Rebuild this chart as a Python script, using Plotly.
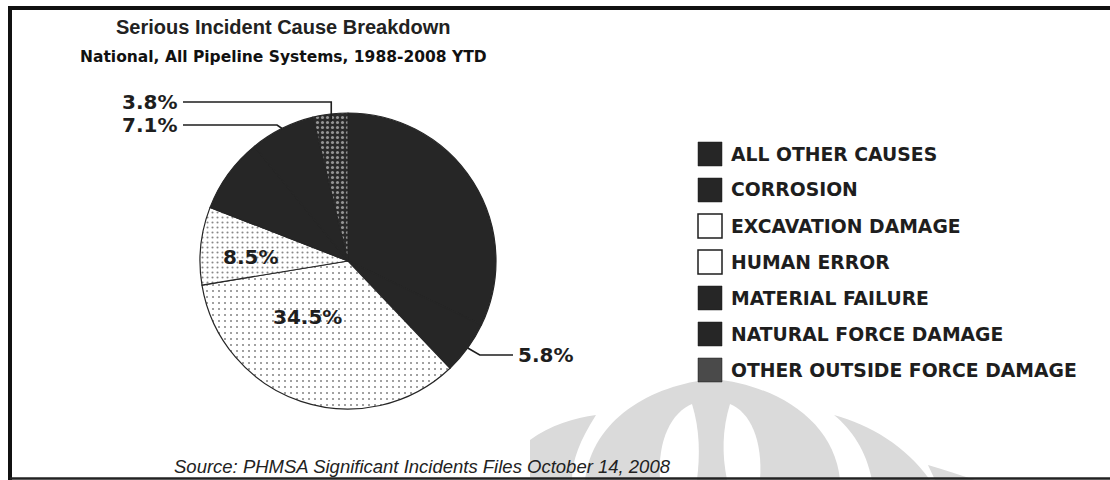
import math
import plotly.graph_objects as go

# ---------------- data ----------------
categories = [
    "ALL OTHER CAUSES",
    "CORROSION",
    "EXCAVATION DAMAGE",
    "HUMAN ERROR",
    "MATERIAL FAILURE",
    "NATURAL FORCE DAMAGE",
    "OTHER OUTSIDE FORCE DAMAGE",
]
values = [32.1, 5.8, 34.5, 8.5, 8.2, 7.1, 3.8]
shown_labels = [False, True, True, True, False, True, True]

title_text = "Serious Incident Cause Breakdown"
subtitle_text = "National, All Pipeline Systems, 1988-2008 YTD"
source_text = "Source: PHMSA Significant Incidents Files October 14, 2008"

# ---------------- style ----------------
W, H = 1110, 480
DARK = "#262626"
INK = "#1e1e1e"
fill_colors = [DARK, DARK, "#ffffff", "#ffffff", DARK, DARK, DARK]
pat_shape = ["", "", ".", ".", "", "", "."]
pat_fg = [DARK, DARK, "#111111", "#111111", DARK, DARK, "#ffffff"]
pat_bg = [DARK, DARK, "#ffffff", "#ffffff", DARK, DARK, "#2a2a2a"]
pat_size = [6, 6, 6, 5, 6, 6, 5]
pat_sol = [0.2, 0.2, 0.1, 0.14, 0.2, 0.2, 0.3]

CX, CY, R = 348, 261, 148   # pie centre / radius in px

# label placement (style): inside -> (rfrac, dx, dy); outside -> (rfrac, elbow_dx, label_y, line_end_x, side)
label_style = {
    "CORROSION": ("out", 1.0, 12, 355, 513, "right"),
    "EXCAVATION DAMAGE": ("in", 0.47, -18, -10),
    "HUMAN ERROR": ("in", 0.66, 0, 6),
    "NATURAL FORCE DAMAGE": ("out", 1.0, -5, 125, 183, "left"),
    "OTHER OUTSIDE FORCE DAMAGE": ("out", 0.95, 0, 102, 183, "left"),
}


def px(x):
    return x / W


def py(y):
    return 1 - y / H


fig = go.Figure()

fig.add_trace(go.Pie(
    labels=categories,
    values=values,
    sort=False,
    direction="clockwise",
    rotation=0,
    textinfo="none",
    hoverinfo="label+percent",
    showlegend=False,
    domain=dict(x=[px(CX - R), px(CX + R)], y=[py(CY + R), py(CY - R)]),
    marker=dict(
        colors=fill_colors,
        line=dict(color=DARK, width=1.2),
        pattern=dict(shape=pat_shape, fgcolor=pat_fg, bgcolor=pat_bg,
                     size=pat_size, solidity=pat_sol, fillmode="overlay"),
    ),
))

# ---------- percentage labels & leader lines computed from data ----------
total = sum(values)
shapes = []
annotations = []
cum = 0.0
pct_font = dict(family="DejaVu Sans", size=20, color=INK, weight="bold")
for cat, v, show in zip(categories, values, shown_labels):
    mid = (cum + v / 2) / total * 2 * math.pi
    cum += v
    if not show:
        continue
    txt = f"{v / total * 100:.1f}%"
    st = label_style[cat]
    if st[0] == "in":
        _, rf, dx, dy = st
        x = CX + R * rf * math.sin(mid) + dx
        y = CY - R * rf * math.cos(mid) + dy
        annotations.append(dict(x=px(x), y=py(y), xref="paper", yref="paper", text=txt,
                                showarrow=False, xanchor="center", yanchor="middle", font=pct_font))
    else:
        _, rf, edx, ly, ex, side = st
        sx = CX + R * rf * math.sin(mid)
        sy = CY - R * rf * math.cos(mid)
        path = (f"M {px(sx)},{py(sy)} L {px(sx + edx)},{py(ly)} L {px(ex)},{py(ly)}")
        shapes.append(dict(type="path", path=path, xref="paper", yref="paper",
                           line=dict(color=INK, width=1.6)))
        if side == "left":
            annotations.append(dict(x=px(ex - 4), y=py(ly), xref="paper", yref="paper", text=txt,
                                    showarrow=False, xanchor="right", yanchor="middle", font=pct_font))
        else:
            annotations.append(dict(x=px(ex + 3), y=py(ly), xref="paper", yref="paper", text=txt,
                                    showarrow=False, xanchor="left", yanchor="middle", font=pct_font))

# ---------------- legend (manual, larger swatches) ----------------
LEG_X, LEG_Y0, LEG_DY, BOX = 698, 154, 36, 24
for i, cat in enumerate(categories):
    yc = LEG_Y0 + i * LEG_DY
    light = fill_colors[i] == "#ffffff"
    shapes.append(dict(type="rect", xref="paper", yref="paper",
                       x0=px(LEG_X), x1=px(LEG_X + BOX), y0=py(yc + BOX / 2), y1=py(yc - BOX / 2),
                       fillcolor="#ffffff" if light else ("#4a4a4a" if pat_shape[i] else DARK),
                       line=dict(color=INK, width=1.5 if light else 0.5)))
    annotations.append(dict(x=px(LEG_X + BOX + 7), y=py(yc), xref="paper", yref="paper",
                            text=cat, showarrow=False, xanchor="left", yanchor="middle",
                            font=dict(family="DejaVu Sans", size=18.8, color=INK, weight="bold")))

# ---------------- titles ----------------
annotations.append(dict(x=px(283), y=py(27), xref="paper", yref="paper", text=title_text,
                        showarrow=False, xanchor="center", yanchor="middle",
                        font=dict(family="Liberation Sans", size=20, color="#222222", weight="bold")))
annotations.append(dict(x=px(283), y=py(57), xref="paper", yref="paper", text=subtitle_text,
                        showarrow=False, xanchor="center", yanchor="middle",
                        font=dict(family="DejaVu Sans", size=15.5, color="#111111", weight="bold")))
annotations.append(dict(x=px(422), y=py(466), xref="paper", yref="paper", text=source_text,
                        showarrow=False, xanchor="center", yanchor="middle",
                        font=dict(family="Liberation Sans", size=18.5, color="#222222", style="italic")))

# ---------------- watermark (faint background logo), drawn in order ----------------
GRAY = "#dadada"
wm = [
    ("M 585,480 C 592,420 650,385 713,379 C 776,385 834,420 840,480 Z", GRAY),
    ("M 660,480 C 657,440 672,412 692,404 C 700,430 700,455 697,480 Z", "#ffffff"),
    ("M 760,480 C 763,440 750,412 730,404 C 722,430 722,455 727,480 Z", "#ffffff"),
    ("M 530,440 C 550,425 575,418 596,415 C 580,440 572,460 572,480 L 530,480 Z", GRAY),
    ("M 834,415 C 870,425 905,445 930,480 L 872,480 C 866,450 852,430 834,415 Z", GRAY),
    ("M 928,465 C 945,470 960,475 975,480 L 935,480 Z", GRAY),
]


def conv(path):
    out = []
    for tok in path.split():
        if "," in tok:
            a, b = tok.split(",")
            out.append(f"{px(float(a))},{py(float(b))}")
        else:
            out.append(tok)
    return " ".join(out)


wm_shapes = [dict(type="path", path=conv(p), xref="paper", yref="paper",
                  fillcolor=c, line=dict(width=0), layer="below") for p, c in wm]
shapes = wm_shapes + shapes

# ---------------- frame ----------------
shapes.append(dict(type="path", xref="paper", yref="paper",
                   path=f"M {px(1110)},{py(8)} L {px(10)},{py(8)} L {px(10)},{py(480)}",
                   line=dict(color="#111111", width=4)))
shapes.append(dict(type="line", xref="paper", yref="paper",
                   x0=px(10), x1=px(1110), y0=py(478.5), y1=py(478.5),
                   line=dict(color="#222222", width=2.5)))

fig.update_layout(
    width=W, height=H,
    margin=dict(l=0, r=0, t=0, b=0),
    paper_bgcolor="#ffffff",
    plot_bgcolor="#ffffff",
    shapes=shapes,
    annotations=annotations,
    showlegend=False,
)

fig.write_html("out.html")
